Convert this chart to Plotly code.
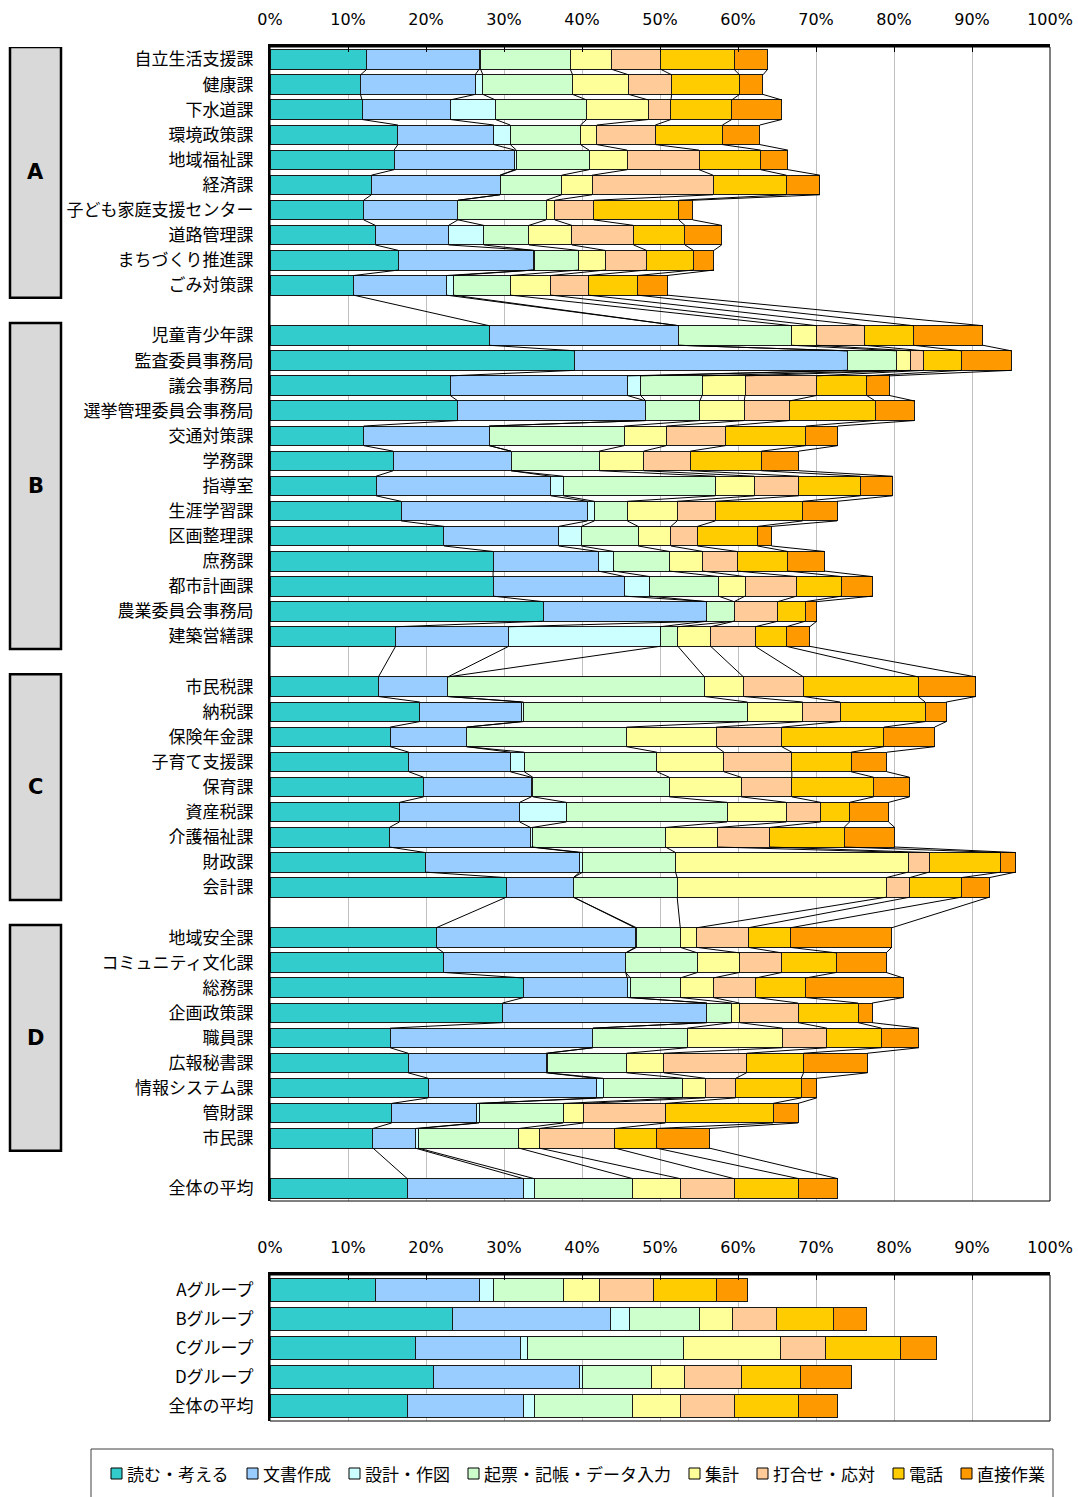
import plotly.graph_objects as go

W, H = 1078, 1497

# ---- series definitions -------------------------------------------------
series_names = ["読む・考える", "文書作成", "設計・作図", "起票・記帳・データ入力",
                "集計", "打合せ・応対", "電話", "直接作業"]
series_colors = ["#33CCCC", "#99CCFF", "#CCFFFF", "#CCFFCC",
                 "#FFFF99", "#FFCC99", "#FFCC00", "#FF9900"]

# ---- departments (top chart), grouped A-D, then the overall average ----
group_labels = ["A", "B", "C", "D"]
group_sizes = [10, 13, 9, 9]

departments = [
    # A
    "自立生活支援課", "健康課", "下水道課", "環境政策課", "地域福祉課", "経済課",
    "子ども家庭支援センター", "道路管理課", "まちづくり推進課", "ごみ対策課",
    # B
    "児童青少年課", "監査委員事務局", "議会事務局", "選挙管理委員会事務局", "交通対策課",
    "学務課", "指導室", "生涯学習課", "区画整理課", "庶務課", "都市計画課",
    "農業委員会事務局", "建築営繕課",
    # C
    "市民税課", "納税課", "保険年金課", "子育て支援課", "保育課", "資産税課",
    "介護福祉課", "財政課", "会計課",
    # D
    "地域安全課", "コミュニティ文化課", "総務課", "企画政策課", "職員課", "広報秘書課",
    "情報システム課", "管財課", "市民課",
    # overall
    "全体の平均",
]

# share of working time (%) per activity
yomu = [12.4, 11.6, 11.8, 16.4, 15.9, 13.0, 12.0, 13.5, 16.5, 10.7,
        28.1, 39.1, 23.1, 24.1, 12.0, 15.8, 13.6, 16.8, 22.3, 28.6, 28.6, 35.0, 16.1,
        13.9, 19.2, 15.4, 17.8, 19.7, 16.6, 15.3, 19.9, 30.3,
        21.3, 22.3, 32.5, 29.8, 15.4, 17.7, 20.3, 15.6, 13.2,
        17.6]
bunsho = [14.4, 14.7, 11.3, 12.3, 15.5, 16.5, 12.1, 9.4, 17.3, 11.9,
          24.3, 34.9, 22.7, 24.1, 16.1, 15.1, 22.4, 23.9, 14.7, 13.5, 16.9, 21.0, 14.5,
          8.9, 13.0, 9.8, 13.0, 13.8, 15.4, 18.1, 19.8, 8.6,
          25.5, 23.3, 13.3, 26.2, 26.0, 17.7, 21.5, 10.9, 5.4,
          14.9]
sekkei = [0.2, 1.0, 5.8, 2.1, 0.2, 0.0, 0.0, 4.5, 0.1, 0.9,
          0.0, 0.0, 1.7, 0.0, 0.0, 0.0, 1.6, 0.9, 2.9, 2.0, 3.2, 0.0, 19.4,
          0.0, 0.3, 0.0, 1.8, 0.2, 6.0, 0.2, 0.4, 0.0,
          0.2, 0.0, 0.4, 0.0, 0.0, 0.2, 0.9, 0.3, 0.4,
          1.4]
kihyo = [11.5, 11.5, 11.7, 9.0, 9.3, 7.9, 11.3, 5.8, 5.7, 7.3,
         14.5, 6.3, 7.9, 6.9, 17.3, 11.3, 19.5, 4.2, 7.3, 7.1, 8.8, 3.5, 2.3,
         32.9, 28.7, 20.5, 17.0, 17.5, 20.6, 17.1, 11.9, 13.3,
         5.6, 9.2, 6.4, 3.2, 12.1, 10.1, 10.2, 10.8, 12.9,
         12.6]
shukei = [5.3, 7.2, 7.9, 2.1, 4.9, 3.9, 1.1, 5.5, 3.4, 5.2,
          3.2, 1.8, 5.5, 5.7, 5.4, 5.7, 5.0, 6.4, 4.2, 4.3, 3.4, 0.0, 4.2,
          5.0, 7.1, 11.5, 8.6, 9.2, 7.6, 6.7, 29.8, 26.8,
          2.1, 5.4, 4.2, 1.0, 12.2, 4.8, 2.9, 2.6, 2.6,
          6.1]
uchiawase = [6.3, 5.5, 2.9, 7.5, 9.2, 15.5, 5.0, 7.9, 5.3, 4.8,
             6.1, 1.7, 9.2, 5.8, 7.6, 6.0, 5.7, 4.9, 3.4, 4.4, 6.6, 5.6, 5.7,
             7.7, 4.8, 8.4, 8.7, 6.5, 4.4, 6.7, 2.7, 3.0,
             6.6, 5.4, 5.5, 7.5, 5.7, 10.6, 3.9, 10.5, 9.7,
             6.9]
denwa = [9.4, 8.7, 7.8, 8.6, 7.9, 9.4, 10.9, 6.6, 6.0, 6.3,
         6.3, 4.8, 6.4, 11.0, 10.3, 9.1, 7.9, 11.2, 7.7, 6.5, 5.8, 3.5, 4.0,
         14.7, 10.9, 13.1, 7.6, 10.5, 3.7, 9.5, 9.2, 6.6,
         5.4, 7.0, 6.4, 7.7, 7.0, 7.3, 8.4, 13.8, 5.3,
         8.3]
chokusetsu = [4.3, 3.0, 6.4, 4.8, 3.5, 4.3, 1.8, 4.7, 2.6, 3.8,
              8.9, 6.4, 2.9, 5.0, 4.1, 4.8, 4.1, 4.4, 1.8, 4.7, 3.9, 1.5, 3.0,
              7.4, 2.7, 6.5, 4.6, 4.6, 5.0, 6.5, 1.9, 3.6,
              13.0, 6.4, 12.5, 1.8, 4.8, 8.2, 2.0, 3.2, 6.8,
              5.0]

# ---- group summary (bottom chart) ---------------------------------------
summary_labels = ["Aグループ", "Bグループ", "Cグループ", "Dグループ", "全体の平均"]
sum_yomu = [13.5, 23.4, 18.7, 20.9, 17.6]
sum_bunsho = [13.4, 20.3, 13.4, 18.8, 14.9]
sum_sekkei = [1.7, 2.4, 0.9, 0.3, 1.4]
sum_kihyo = [9.0, 8.9, 20.0, 8.9, 12.6]
sum_shukei = [4.6, 4.3, 12.4, 4.3, 6.1]
sum_uchiawase = [7.0, 5.6, 5.8, 7.3, 6.9]
sum_denwa = [8.0, 7.3, 9.6, 7.5, 8.3]
sum_chokusetsu = [4.0, 4.3, 4.7, 6.5, 5.0]

x_ticks = list(range(0, 101, 10))
x_ticktext = [f"{v}%" for v in x_ticks]

top_series = [yomu, bunsho, sekkei, kihyo, shukei, uchiawase, denwa, chokusetsu]
bottom_series = [sum_yomu, sum_bunsho, sum_sekkei, sum_kihyo,
                 sum_shukei, sum_uchiawase, sum_denwa, sum_chokusetsu]

# ---- layout helpers ------------------------------------------------------
CJK = "Noto Sans CJK JP"
LATIN = "DejaVu Sans"


def px_x(p):
    return p / W


def px_y(p):
    return 1 - p / H


# category slots: one empty slot after each group
ypos = []
slot = 0
group_spans = []
for size in group_sizes:
    group_spans.append((slot, slot + size - 1))
    ypos += list(range(slot, slot + size))
    slot += size + 1
ypos.append(slot)
n_slots = slot + 1

BW_TOP = 0.78
BW_BOT = 0.79
EDGE = "#1a1a1a"

fig = go.Figure()

# stacked bars, top chart
for name, color, vals in zip(series_names, series_colors, top_series):
    fig.add_trace(go.Bar(
        x=vals, y=ypos, orientation="h", width=BW_TOP, name=name,
        marker=dict(color=color, line=dict(color=EDGE, width=1)),
        xaxis="x", yaxis="y", showlegend=False, hoverinfo="x+name",
    ))

# series lines joining the end of each segment across consecutive bars
running = [0.0] * len(ypos)
for vals in top_series:
    running = [r + v for r, v in zip(running, vals)]
    lx, ly = [], []
    for i in range(len(ypos) - 1):
        lx += [running[i], running[i + 1], None]
        ly += [ypos[i] + BW_TOP / 2, ypos[i + 1] - BW_TOP / 2, None]
    fig.add_trace(go.Scatter(
        x=lx, y=ly, mode="lines", line=dict(color="#000000", width=1),
        xaxis="x", yaxis="y", showlegend=False, hoverinfo="skip",
    ))

# stacked bars, bottom chart
for name, color, vals in zip(series_names, series_colors, bottom_series):
    fig.add_trace(go.Bar(
        x=vals, y=list(range(len(summary_labels))), orientation="h", width=BW_BOT,
        name=name, marker=dict(color=color, line=dict(color=EDGE, width=1)),
        xaxis="x2", yaxis="y2", showlegend=False, hoverinfo="x+name",
    ))

x_dom = [px_x(270), px_x(1050)]
xcommon = dict(
    domain=x_dom, range=[0, 100], side="top", tickvals=x_ticks, ticktext=x_ticktext,
    showgrid=True, gridcolor="#C0C0C0", gridwidth=1, zeroline=False,
    showline=True, linecolor="#000000", linewidth=2.5,
    ticks="inside", ticklen=5, tickcolor="#000000", tickwidth=1,
    tickfont=dict(family=LATIN, size=16, color="#000000"),
    ticklabelstandoff=13, fixedrange=True, automargin=False,
)
ycommon = dict(
    showgrid=False, zeroline=False, showline=True, linecolor="#000000", linewidth=2,
    ticks="", tickfont=dict(family=CJK, size=17, color="#000000"),
    ticklabelstandoff=11, fixedrange=True, automargin=False,
)

fig.update_layout(
    width=W, height=H, autosize=False, margin=dict(l=0, r=0, t=0, b=0, pad=0),
    paper_bgcolor="#FFFFFF", plot_bgcolor="#FFFFFF",
    barmode="stack", showlegend=False,
    xaxis=dict(anchor="y", **xcommon),
    yaxis=dict(anchor="x", domain=[px_y(1201), px_y(47)],
               range=[n_slots - 0.5, -0.5], tickvals=ypos, ticktext=departments,
               **ycommon),
    xaxis2=dict(anchor="y2", **xcommon),
    yaxis2=dict(anchor="x2", domain=[px_y(1421), px_y(1275)],
                range=[len(summary_labels) - 0.5, -0.5],
                tickvals=list(range(len(summary_labels))), ticktext=summary_labels,
                **ycommon),
)

shapes = []
annotations = []

# plot-area frames
for xr, yr in (("x domain", "y domain"), ("x2 domain", "y2 domain")):
    shapes.append(dict(type="rect", xref=xr, yref=yr, x0=0, x1=1, y0=0, y1=1,
                       line=dict(color="#000000", width=1), layer="above"))

# group boxes A-D
for label, (s0, s1) in zip(group_labels, group_spans):
    shapes.append(dict(type="rect", xref="paper", yref="y",
                       x0=px_x(10), x1=px_x(61), y0=s0 - 0.5, y1=s1 + 0.5,
                       fillcolor="#D9D9D9", line=dict(color="#000000", width=2.5),
                       layer="below"))
    annotations.append(dict(xref="paper", yref="y", x=px_x(35.5), y=(s0 + s1) / 2,
                            text=f"<b>{label}</b>", showarrow=False,
                            font=dict(family=LATIN, size=21, color="#000000"),
                            xanchor="center", yanchor="middle"))

# legend panel
shapes.append(dict(type="rect", xref="paper", yref="paper",
                   x0=px_x(91), x1=px_x(1053), y0=px_y(1500), y1=px_y(1449),
                   line=dict(color="#404040", width=1), fillcolor="rgba(0,0,0,0)"))
lx = 111
ly = 1473
CH = 17
for name, color in zip(series_names, series_colors):
    shapes.append(dict(type="rect", xref="paper", yref="paper",
                       x0=px_x(lx), x1=px_x(lx + 11), y0=px_y(ly + 6), y1=px_y(ly - 5),
                       fillcolor=color, line=dict(color="#000000", width=1)))
    annotations.append(dict(xref="paper", yref="paper", x=px_x(lx + 14), y=px_y(ly),
                            text=name, showarrow=False, xanchor="left", yanchor="middle",
                            font=dict(family=CJK, size=CH, color="#000000")))
    lx += 15 + CH * len(name) + 19

fig.update_layout(shapes=shapes, annotations=annotations)

fig.write_html("out.html", config={"displayModeBar": False})
